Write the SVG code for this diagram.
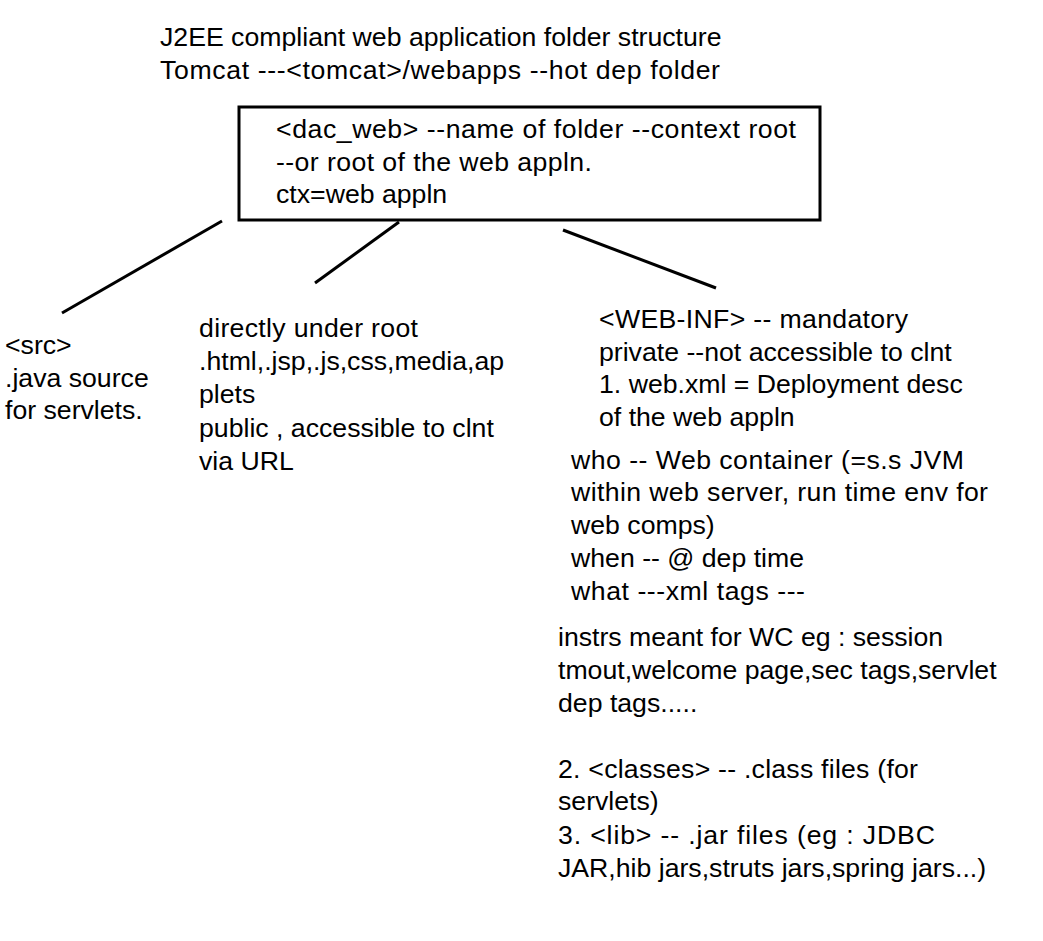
<svg xmlns="http://www.w3.org/2000/svg" width="1043" height="941" viewBox="0 0 1043 941">
<style>
text{font-family:"Liberation Sans",Arial,sans-serif;font-size:26.67px;fill:#000}
.c{stroke:#000;stroke-width:3;fill:none}
</style>
<rect width="1043" height="941" fill="#fff"/>
<g id="title">
<text x="160" y="46">J2EE compliant web application folder structure</text>
<text x="160" y="79" textLength="560">Tomcat ---&lt;tomcat&gt;/webapps --hot dep folder</text>
</g>
<g id="root">
<rect x="239" y="107" width="581" height="113" class="c"/>
<text x="276" y="138" textLength="520">&lt;dac_web&gt; --name of folder --context root</text>
<text x="276" y="171" textLength="316">--or root of the web appln.</text>
<text x="276" y="203">ctx=web appln</text>
</g>
<g id="connectors">
<line x1="222" y1="221" x2="62" y2="313" class="c"/>
<line x1="399" y1="222" x2="315" y2="283" class="c"/>
<line x1="563" y1="230" x2="716" y2="288" class="c"/>
</g>
<g id="src">
<text x="5" y="354">&lt;src&gt;</text>
<text x="5" y="387">.java source</text>
<text x="5" y="419">for servlets.</text>
</g>
<g id="public">
<text x="199" y="337" textLength="219">directly under root</text>
<text x="199" y="370">.html,.jsp,.js,css,media,ap</text>
<text x="199" y="403">plets</text>
<text x="199" y="437">public , accessible to clnt</text>
<text x="199" y="470">via URL</text>
</g>
<g id="webinf">
<text x="599" y="328" textLength="309">&lt;WEB-INF&gt; -- mandatory</text>
<text x="599" y="361">private --not accessible to clnt</text>
<text x="599" y="393">1. web.xml = Deployment desc</text>
<text x="599" y="426">of the web appln</text>
</g>
<g id="who">
<text x="571" y="469" textLength="393">who -- Web container (=s.s JVM</text>
<text x="571" y="501" textLength="417">within web server, run time env for</text>
<text x="571" y="534">web comps)</text>
<text x="571" y="567">when -- @ dep time</text>
<text x="571" y="600" textLength="234">what ---xml tags ---</text>
</g>
<g id="instrs">
<text x="558" y="646">instrs meant for WC eg : session</text>
<text x="558" y="679">tmout,welcome page,sec tags,servlet</text>
<text x="558" y="712">dep tags.....</text>
<text x="558" y="778" textLength="360">2. &lt;classes&gt; -- .class files (for</text>
<text x="558" y="810">servlets)</text>
<text x="558" y="844" textLength="377">3. &lt;lib&gt; -- .jar files (eg : JDBC</text>
<text x="558" y="877">JAR,hib jars,struts jars,spring jars...)</text>
</g>
</svg>
